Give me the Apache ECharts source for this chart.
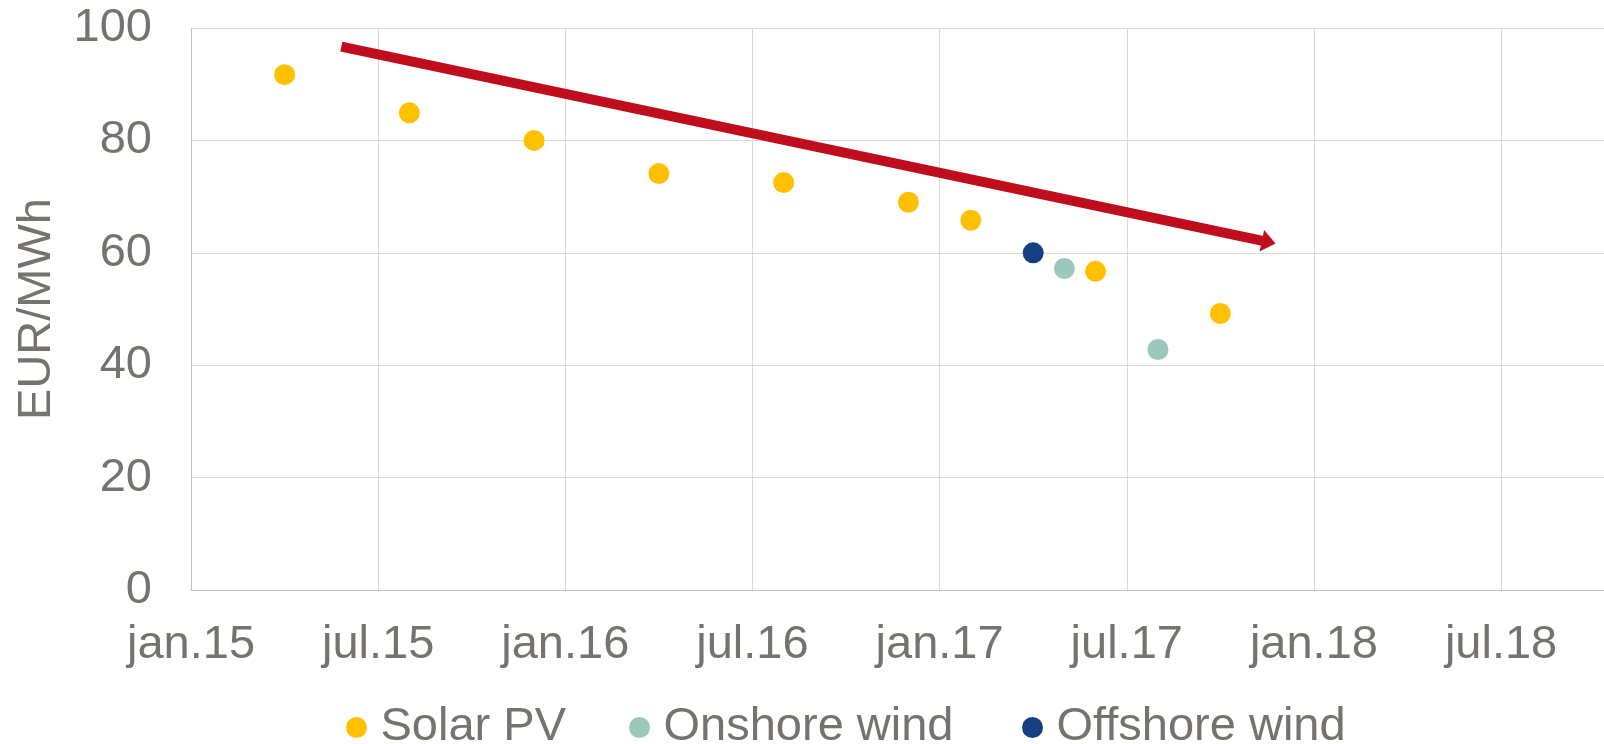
<!DOCTYPE html>
<html>
<head>
<meta charset="utf-8">
<title>EUR/MWh</title>
<script src="https://cdn.jsdelivr.net/npm/echarts@6/dist/echarts.min.js"></script>
<style>
  html, body { margin: 0; padding: 0; background: #fff; }
  #chart { width: 1604px; height: 744px; }
</style>
</head>
<body>
<div id="chart"></div>
<script>
// auction results, month (yyyy-mm) and price in EUR/MWh
const solarDates    = ['2015-04', '2015-08', '2015-12', '2016-04', '2016-08', '2016-12', '2017-02', '2017-06', '2017-10'];
const solarValues   = [91.7, 84.9, 80.0, 74.1, 72.5, 69.0, 65.8, 56.7, 49.2];
const onshoreDates  = ['2017-05', '2017-08'];
const onshoreValues = [57.2, 42.8];
const offshoreDates = ['2017-04'];
const offshoreValues = [60.0];

// trend arrow, [month offset from jan.15, EUR/MWh]
const trendStart = [4.82, 96.7];
const trendEnd   = [34.55, 61.9];

const monthNames = ['jan', 'jul'];
const yTicks = [0, 20, 40, 60, 80, 100];

const FONT = "'Liberation Sans', Arial, sans-serif";
const COLORS = {
  text: '#76726d', grid: '#d9d9d9', axis: '#c4c4c4',
  solar: '#ffc000', onshore: '#9bc8ba', offshore: '#153e83', arrow: '#c00d1e',
};

// months since jan.15, so every half-year gets the same width like the original
function monthIndex(d) {
  const [y, m] = d.split('-').map(Number);
  return (y - 2015) * 12 + (m - 1);
}
const pairs = (dates, vals) => dates.map((d, i) => [monthIndex(d), vals[i]]);

function legend(name, left) {
  return {
    data: [name], left, top: 699, icon: 'circle',
    itemWidth: 38, itemHeight: 21, selectedMode: false,
    itemStyle: { opacity: 1 },
    textStyle: { color: COLORS.text, fontSize: 47, fontFamily: FONT },
  };
}

function buildOption() {
  const dot = (name, color, data) => ({
    name, type: 'scatter', data, symbolSize: 21,
    itemStyle: { color, opacity: 1 }, emphasis: { disabled: true },
  });
  return {
    animation: false,
    backgroundColor: '#fff',
    textStyle: { fontFamily: FONT },
    grid: { left: 191, right: 0, top: 28, bottom: 154, containLabel: false },
    legend: [
      legend('Solar PV', 341),
      legend('Onshore wind', 624),
      legend('Offshore wind', 1017),
    ],
    xAxis: {
      type: 'value', min: 0, max: 45.3, interval: 6,
      axisLine: { show: true, lineStyle: { color: COLORS.axis, width: 1 } },
      axisTick: { show: false },
      splitLine: { show: true, lineStyle: { color: COLORS.grid, width: 1 } },
      axisLabel: {
        color: COLORS.text, fontSize: 47, fontFamily: FONT, margin: 32,
        showMaxLabel: false,
        formatter: (v) => {
          if (v % 6 !== 0) return '';
          const yy = 15 + Math.floor(v / 12);
          return monthNames[(v % 12) / 6] + '.' + yy;
        },
      },
    },
    yAxis: {
      type: 'value', min: yTicks[0], max: yTicks[yTicks.length - 1], interval: 20,
      name: 'EUR/MWh', nameLocation: 'middle', nameGap: 130,
      nameTextStyle: { color: COLORS.text, fontSize: 47, fontFamily: FONT },
      axisLine: { show: true, lineStyle: { color: COLORS.axis, width: 1 } },
      axisTick: { show: false },
      splitLine: { show: true, lineStyle: { color: COLORS.grid, width: 1 } },
      axisLabel: { color: COLORS.text, fontSize: 47, fontFamily: FONT, margin: 39 },
    },
    series: [
      dot('Solar PV', COLORS.solar, pairs(solarDates, solarValues)),
      dot('Onshore wind', COLORS.onshore, pairs(onshoreDates, onshoreValues)),
      dot('Offshore wind', COLORS.offshore, pairs(offshoreDates, offshoreValues)),
      {
        name: 'trend', type: 'line', data: [], silent: true,
        markLine: {
          silent: true, animation: false,
          symbol: ['none', 'triangle'], symbolSize: [22, 14],
          label: { show: false },
          lineStyle: { color: COLORS.arrow, width: 10, type: 'solid' },
          emphasis: { disabled: true },
          data: [[{ coord: trendStart }, { coord: trendEnd }]],
        },
      },
    ],
  };
}

const chart = echarts.init(document.getElementById('chart'), null, { renderer: 'canvas' });
chart.setOption(buildOption());
</script>
</body>
</html>
